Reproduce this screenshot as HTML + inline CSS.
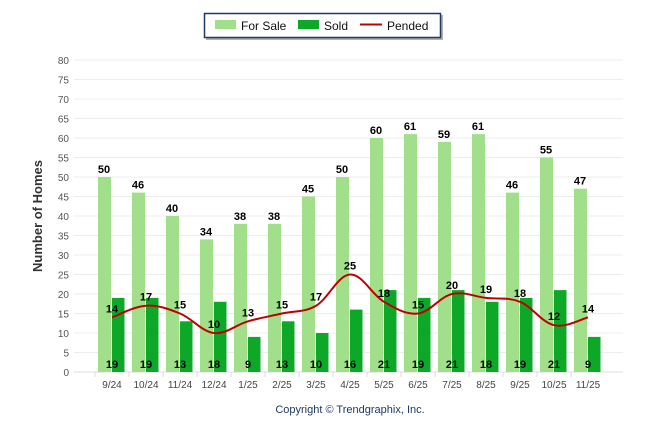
<!DOCTYPE html>
<html><head><meta charset="utf-8"><style>
body{margin:0;background:#fff;}
svg{display:block;font-family:"Liberation Sans",Arial,sans-serif;}
</style></head><body>
<svg id="c" width="646" height="434">
<rect x="0" y="0" width="646" height="434" fill="#fff"/>
<g id="legend">
<rect x="206" y="15" width="237" height="25" fill="#b0b0b0"/>
<rect x="204.5" y="13.5" width="236" height="24" fill="#fff" stroke="#1f3864" stroke-width="1.5"/>
<rect x="215" y="20" width="21" height="9" fill="#a1df8a"/>
<text x="241" y="30" font-size="12" fill="#111">For Sale</text>
<rect x="298" y="20" width="21" height="9" fill="#0ea828"/>
<text x="324" y="30" font-size="12" fill="#111">Sold</text>
<line x1="360" y1="24.5" x2="382" y2="24.5" stroke="#c00000" stroke-width="2"/>
<text x="387" y="30" font-size="12" fill="#111">Pended</text>
</g>
<text x="0" y="0" transform="translate(42,216) rotate(-90)" text-anchor="middle" font-size="13" font-weight="bold" fill="#333">Number of Homes</text>
<text x="350" y="413" text-anchor="middle" font-size="11" fill="#1f3864">Copyright © Trendgraphix, Inc.</text>
<g id="grid"></g><g id="bars"></g><g id="line"></g><g id="labels"></g>
</svg>
<script>
const categories=["9/24","10/24","11/24","12/24","1/25","2/25","3/25","4/25","5/25","6/25","7/25","8/25","9/25","10/25","11/25"];
const forSale=[50,46,40,34,38,38,45,50,60,61,59,61,46,55,47];
const sold=[19,19,13,18,9,13,10,16,21,19,21,18,19,21,9];
const pended=[14,17,15,10,13,15,17,25,18,15,20,19,18,12,14];
const yTicks=[0,5,10,15,20,25,30,35,40,45,50,55,60,65,70,75,80];
const NS="http://www.w3.org/2000/svg";
const y=v=>372-v*3.9;
const x=i=>112+i*34;
function mk(tag,attrs,parent,txt){const e=document.createElementNS(NS,tag);for(const k in attrs)e.setAttribute(k,attrs[k]);if(txt!==undefined)e.textContent=txt;document.getElementById(parent).appendChild(e);return e;}
yTicks.forEach(t=>{
 const g=mk('line',{x1:74,x2:623,y1:y(t),y2:y(t),stroke:t===0?'#ddd':'#ececec','stroke-width':1},'grid');
 
 
 const l=mk('text',{x:69,y:y(t)+4,'text-anchor':'end','font-size':10,fill:'#555'},'grid',t);
 
 
});
categories.forEach((c,i)=>{
 const tk=mk('line',{x1:x(i)-17,x2:x(i)-17,y1:372,y2:377,stroke:'#ddd'},'grid');
 
 
 const l=mk('text',{x:x(i),y:388,'text-anchor':'middle','font-size':10,fill:'#444'},'grid',c);
 
 
 const b1=mk('rect',{x:x(i)-14,y:y(forSale[i]),width:13,height:372-y(forSale[i]),fill:'#a1df8a'},'bars');
 
 
 const b2=mk('rect',{x:x(i),y:y(sold[i]),width:12.5,height:372-y(sold[i]),fill:'#0ea828'},'bars');
 
 
 const t1=mk('text',{x:x(i)-8,y:y(forSale[i])-4,'text-anchor':'middle','font-size':11,'font-weight':'bold',fill:'#000'},'labels',forSale[i]);
 
 
 const t2=mk('text',{x:x(i),y:368,'text-anchor':'middle','font-size':11,'font-weight':'bold',fill:'#000'},'labels',sold[i]);
 
 
 const t3=mk('text',{x:x(i),y:y(pended[i])-5,'text-anchor':'middle','font-size':11,'font-weight':'bold',fill:'#000'},'labels',pended[i]);
 
 
});
const pts=pended.map((v,i)=>[x(i),y(v)]);
let d=`M${pts[0][0]},${pts[0][1]}`;
for(let i=0;i<pts.length-1;i++){
 const p0=pts[Math.max(0,i-1)],p1=pts[i],p2=pts[i+1],p3=pts[Math.min(pts.length-1,i+2)];
 const t=0.18;
 d+=` C${p1[0]+(p2[0]-p0[0])*t},${p1[1]+(p2[1]-p0[1])*t} ${p2[0]-(p3[0]-p1[0])*t},${p2[1]-(p3[1]-p1[1])*t} ${p2[0]},${p2[1]}`;
}
const ln=mk('path',{d:d,fill:'none',stroke:'#c00000','stroke-width':2},'line');


</script>
</body></html>
